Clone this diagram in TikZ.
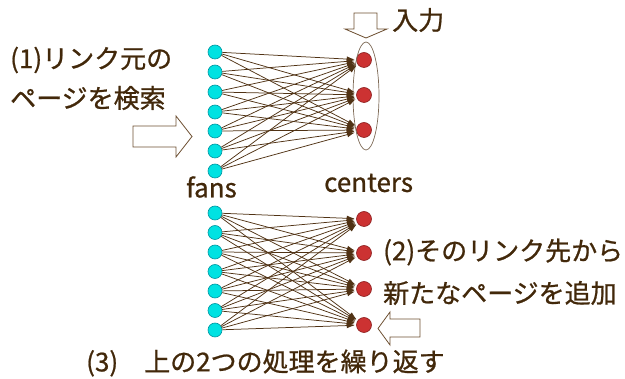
\documentclass[tikz,border=0pt]{standalone}
\usepackage{fontspec}
\setmainfont{Noto Sans CJK JP}[FakeBold=0.8]
\usetikzlibrary{arrows.meta,shapes.geometric}
\definecolor{fancol}{RGB}{0,226,226}
\definecolor{fanline}{RGB}{0,150,160}
\definecolor{cencol}{RGB}{204,50,50}
\definecolor{cenline}{RGB}{140,30,30}
\definecolor{edgecol}{RGB}{80,50,20}
\definecolor{txtcol}{RGB}{66,40,10}
\definecolor{blockcol}{RGB}{110,80,50}
\definecolor{ellcol}{RGB}{125,105,85}
\tikzset{
  fan/.style={circle, fill=fancol, draw=fanline, line width=0.6pt, minimum size=14pt, inner sep=0pt},
  cen/.style={circle, fill=cencol, draw=cenline, line width=0.6pt, minimum size=15pt, inner sep=0pt},
  link/.style={draw=edgecol, line width=0.75pt, -{Latex[length=8pt,width=5.5pt]}, shorten >=1.5pt},
  lbl/.style={text=txtcol, inner sep=0pt, anchor=west, font=\fontsize{26}{30}\selectfont},
  blockarrow/.style={draw=blockcol, fill=white, line width=0.8pt, line join=miter},
}
\begin{document}
\begin{tikzpicture}[x=1pt,y=-1pt]
\useasboundingbox (0,0) rectangle (625,379);
% top graph
\foreach \i/\y in {1/52,2/72,3/92,4/112,5/131,6/151,7/171} \node[fan] (f\i) at (215,\y) {};
\foreach \i/\y in {1/60,2/95,3/130} \node[cen] (c\i) at (364,\y) {};
\node[draw=ellcol, line width=0.7pt, ellipse, minimum width=26pt, minimum height=108pt, inner sep=0pt] (ell) at (366,96) {};
\foreach \i in {1,...,7} \foreach \j in {1,2,3} \draw[link] (f\i) -- (c\j);
% bottom graph
\foreach \i/\y in {1/213,2/232.5,3/252,4/271.5,5/291,6/310.5,7/330} \node[fan] (g\i) at (215,\y) {};
\foreach \i/\y in {1/219,2/253,3/289,4/325} \node[cen] (d\i) at (364,\y) {};
\foreach \i in {1,...,7} \foreach \j in {1,2,3,4} \draw[link] (g\i) -- (d\j);
% block arrows
\draw[blockarrow] (133,126) -- (176,126) -- (176,116) -- (192,136.5) -- (176,157) -- (176,147) -- (133,147) -- cycle;
\draw[blockarrow] (354,13) -- (377,13) -- (377,29) -- (387,29) -- (366,38) -- (345,29) -- (354,29) -- cycle;
\draw[blockarrow] (420,319) -- (390,319) -- (390,312) -- (378,328.5) -- (390,345) -- (390,337) -- (420,337) -- cycle;
% labels
\node[lbl] (t1) at (10,60) {(1)リンク元の};
\node[lbl] (t2) at (10,98) {ページを検索};
\node[lbl] (fans) at (186,187) {fans};
\node[lbl] (cent) at (324,183) {centers};
\node[lbl] (in) at (392,20) {入力};
\node[lbl] (t3) at (383,252) {(2)そのリンク先から};
\node[lbl] (t4) at (383,293) {新たなページを追加};
\node[lbl] (t5) at (86,363) {(3)　上の2つの処理を繰り返す};
\end{tikzpicture}
\end{document}
